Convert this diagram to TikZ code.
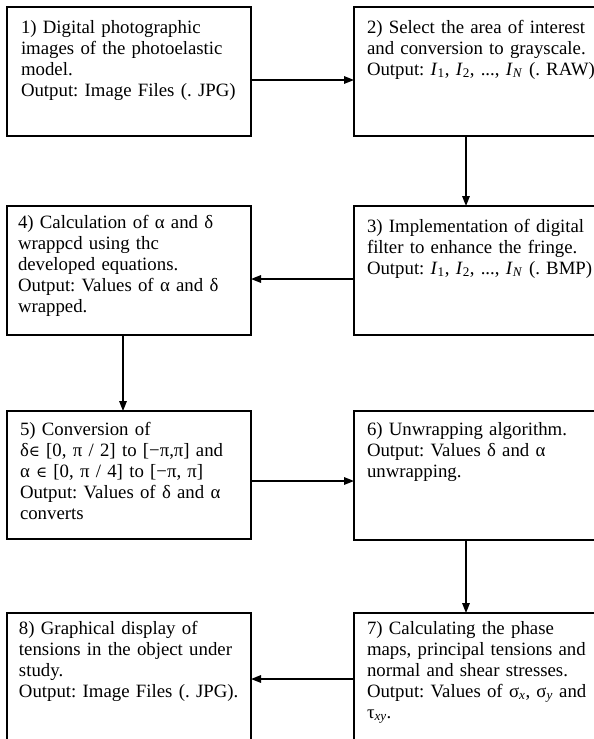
\documentclass[tikz,border=0pt]{standalone}
\usepackage{fontspec}
\setmainfont{Liberation Serif}
\newfontfamily\symserif{DejaVu Serif}
\usetikzlibrary{arrows.meta}

% italic index letter with a lowered subscript
\newcommand{\idx}[2]{\textit{#1}\textsubscript{#2}}
\newcommand{\elemof}{{\symserif\fontsize{15}{21}\selectfont ∈}}

\tikzset{
  stepbox/.style={draw, line width=1.6pt, rectangle, inner sep=0pt, outer sep=0pt,
    minimum width=244pt, minimum height=129pt, anchor=north west},
  steptext/.style={inner sep=0pt, outer sep=0pt, anchor=base west, text width=250pt,
    align=left, font=\fontsize{18.8}{21}\selectfont\frenchspacing},
  flow/.style={line width=1.5pt, -{Triangle[length=10pt,width=7.5pt]}}
}

\begin{document}
\begin{tikzpicture}[x=1pt, y=-1pt]
\useasboundingbox (0,0) rectangle (594,739);
\clip (0,0) rectangle (594,739);

% process boxes, two columns
\node[stepbox] (b1) at (7,7) {};
\node[stepbox] (b2) at (354,7) {};
\node[stepbox] (b3) at (354,206) {};
\node[stepbox] (b4) at (7,206) {};
\node[stepbox, minimum height=128pt] (b5) at (7,411) {};
\node[stepbox] (b6) at (354,411) {};
\node[stepbox] (b7) at (354,613) {};
\node[stepbox] (b8) at (7,613) {};

% step descriptions
\node[steptext] (t1) at ([shift={(14pt,-26pt)}]b1.north west)
  {1) Digital photographic\\ images of the photoelastic\\ model.\\ Output: Image Files (. JPG)};
\node[steptext] (t2) at ([shift={(13pt,-26pt)}]b2.north west)
  {2) Select the area of interest\\ and conversion to grayscale.\\
   Output: \idx{I}{1}, \idx{I}{2}, ..., \idx{I}{\textit{N}} (. RAW)};
\node[steptext] (t3) at ([shift={(13pt,-26pt)}]b3.north west)
  {3) Implementation of digital\\ filter to enhance the fringe.\\
   Output: \idx{I}{1}, \idx{I}{2}, ..., \idx{I}{\textit{N}} (. BMP)};
\node[steptext] (t4) at ([shift={(11pt,-22pt)}]b4.north west)
  {4) Calculation of α and δ\\ wrappcd using thc\\ developed equations.\\
   Output: Values of α and δ\\ wrapped.};
\node[steptext] (t5) at ([shift={(13pt,-24pt)}]b5.north west)
  {5) Conversion of\\ δ\elemof{} [0, π / 2] to [−π,π] and\\ α \elemof{} [0, π / 4] to [−π, π]\\
   Output: Values of δ and α\\ converts};
\node[steptext] (t6) at ([shift={(13pt,-24pt)}]b6.north west)
  {6) Unwrapping algorithm.\\ Output: Values δ and α\\ unwrapping.};
\node[steptext] (t7) at ([shift={(13pt,-21pt)}]b7.north west)
  {7) Calculating the phase\\ maps, principal tensions and\\ normal and shear stresses.\\
   Output: Values of σ\textsubscript{\textit{x}}, σ\textsubscript{\textit{y}} and\\ τ\textsubscript{\textit{xy}}.};
\node[steptext] (t8) at ([shift={(12pt,-21pt)}]b8.north west)
  {8) Graphical display of\\ tensions in the object under\\ study.\\ Output: Image Files (. JPG).};

% flow connectors
\draw[flow] ([yshift=-73pt]b1.north east) -- ([yshift=-73pt]b2.north west);
\draw[flow] ([xshift=112pt]b2.south west) -- ([xshift=112pt]b3.north west);
\draw[flow] ([yshift=-73pt]b3.north west) -- ([yshift=-73pt]b4.north east);
\draw[flow] ([xshift=116pt]b4.south west) -- ([xshift=116pt]b5.north west);
\draw[flow] ([yshift=-70pt]b5.north east) -- ([yshift=-70pt]b6.north west);
\draw[flow] ([xshift=112pt]b6.south west) -- ([xshift=112pt]b7.north west);
\draw[flow] ([yshift=-66pt]b7.north west) -- ([yshift=-66pt]b8.north east);
\end{tikzpicture}
\end{document}
